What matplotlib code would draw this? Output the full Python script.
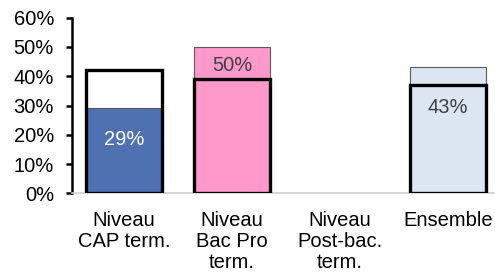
import matplotlib
matplotlib.use("Agg")
import matplotlib.pyplot as plt
import numpy as np

plt.rcParams['font.family'] = ['Liberation Sans', 'DejaVu Sans']

categories = ["Niveau\nCAP term.", "Niveau\nBac Pro\nterm.", "Niveau\nPost-bac.\nterm.", "Ensemble"]
filled_values = [29, 50, np.nan, 43]      # colored bars (%)
outline_values = [42, 39, np.nan, 37]     # thick black outline bars (%)
value_labels = ["29%", "50%", "", "43%"]
yticks = [0, 10, 20, 30, 40, 50, 60]

colors = ["#4F71B2", "#FF99CC", "#FFFFFF", "#DCE6F2"]
label_colors = ["white", "#404040", "#404040", "#404040"]
label_offsets = [10.6, 6.2, 0, 13.6]

FS = 14.5

fig = plt.figure(figsize=(4.95, 2.76), dpi=100)
ax = fig.add_axes([72/495, 1 - 193.3/276, (495-72)/495, (193.3-17.7)/276])

x = np.arange(len(categories))
w = 0.70
ax.bar(x, filled_values, width=w, color=colors, edgecolor="#595959", linewidth=0.8, zorder=2)
ax.bar(x, outline_values, width=w + 0.01, fill=False, edgecolor="black", linewidth=2.4, zorder=3)

for xi, v, lab, lc, off in zip(x, filled_values, value_labels, label_colors, label_offsets):
    if lab and not np.isnan(v):
        ax.text(xi, v - off, lab, ha="center", va="center", color=lc, fontsize=FS, zorder=4)

ax.set_ylim(0, 60)
ax.set_xlim(-0.48, 3.435)
ax.set_yticks(yticks)
ax.set_yticklabels([f"{t}%" for t in yticks], fontsize=FS)
ax.set_xticks(x)
ax.set_xticklabels(categories, fontsize=FS, va="top", linespacing=1.12)
ax.tick_params(axis="x", length=0, pad=13)
ax.tick_params(axis="y", direction="out", length=4, width=1.8, pad=9)

for s in ["top", "right"]:
    ax.spines[s].set_visible(False)
ax.spines["left"].set_linewidth(1.8)
ax.spines["bottom"].set_color("#D0D0D0")
ax.spines["bottom"].set_linewidth(1.2)

fig.savefig("out.png", dpi=100)
